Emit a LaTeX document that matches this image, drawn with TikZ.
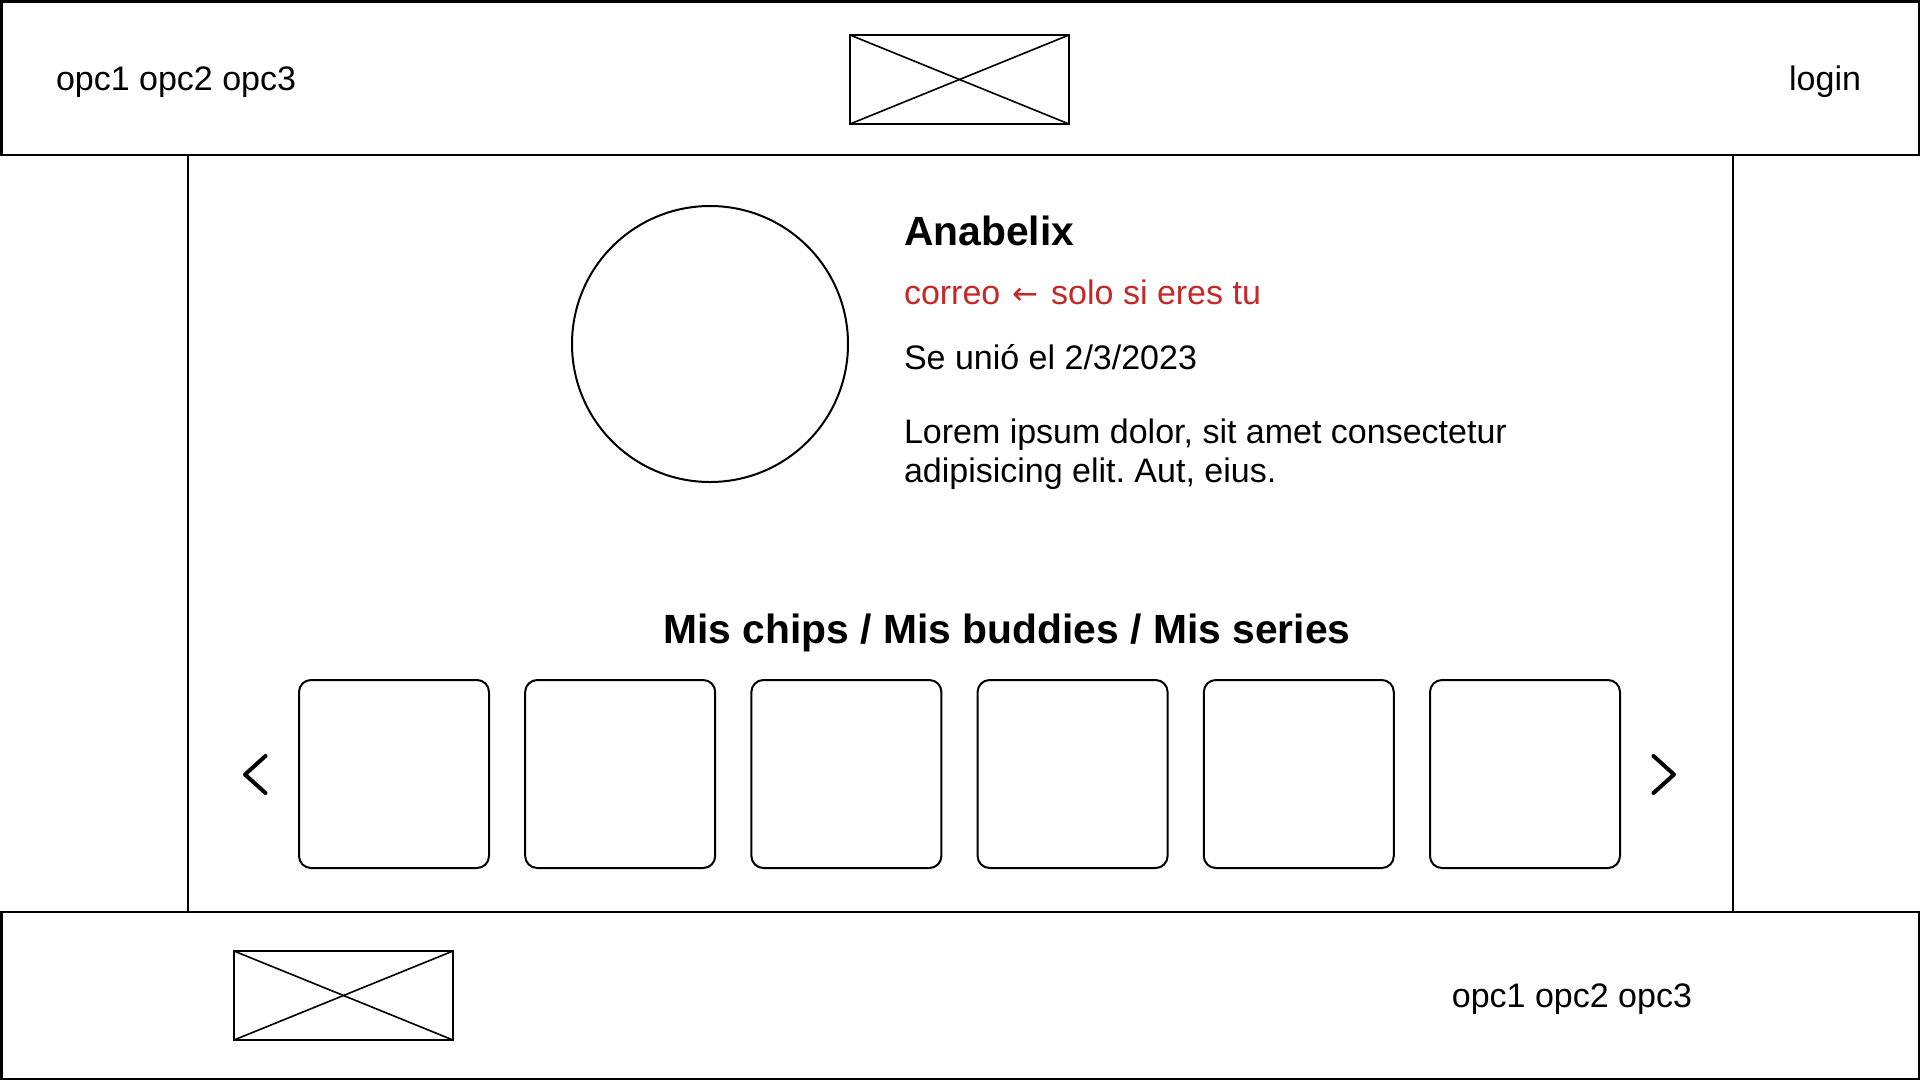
\documentclass[tikz,border=0pt]{standalone}
\usepackage{fontspec}
\setmainfont{Liberation Sans}
\newfontfamily\arrowfont{DejaVu Sans}
\definecolor{mailred}{RGB}{198,40,40}
\frenchspacing
\begin{document}
\begin{tikzpicture}[x=1pt,y=-1pt,
  framebox/.style={draw=black,line width=2.5pt,rectangle,inner sep=0pt,outer sep=0pt,anchor=north west},
  logobox/.style={draw=black,line width=2pt,rectangle,inner sep=0pt,outer sep=0pt,anchor=north west,minimum width=219pt,minimum height=89pt},
  cardbox/.style={draw=black,line width=2pt,rectangle,rounded corners=12pt,inner sep=0pt,outer sep=0pt,anchor=north west,minimum width=190pt,minimum height=188pt},
  colline/.style={draw=black,line width=2pt},
  chev/.style={draw=black,line width=4pt,line cap=round,line join=round},
  bodytxt/.style={inner sep=0pt,outer sep=0pt,font=\fontsize{34}{40}\selectfont},
  boldtxt/.style={inner sep=0pt,outer sep=0pt,font=\fontsize{40.8}{46}\selectfont\bfseries}]
\useasboundingbox (0,0) rectangle (1920,1080);
\fill[white] (0,0) rectangle (1920,1080);

% header and footer bars
\node[framebox,minimum width=1917.5pt,minimum height=153.75pt] (header) at (1.25,1.25) {};
\node[framebox,minimum width=1917.5pt,minimum height=166.75pt] (footer) at (1.25,912) {};

% content column
\draw[colline] (188,155) -- (188,912);
\draw[colline] (1733,155) -- (1733,912);

% header
\node[bodytxt,anchor=base west] (hmenu) at (56,90.5) {opc1 opc2 opc3};
\node[logobox] (hlogo) at (850,35) {};
\draw[line width=1.6pt] (hlogo.north west) -- (hlogo.south east);
\draw[line width=1.6pt] (hlogo.south west) -- (hlogo.north east);
\node[bodytxt,anchor=base east] (login) at (1861,90.5) {login};

% profile
\node[circle,draw=black,line width=2pt,inner sep=0pt,minimum size=276pt] (avatar) at (710,344) {};
\node[boldtxt,anchor=base west] (name) at (904,245) {Anabelix};
\node[bodytxt,anchor=base west,text=mailred] (mail) at (904,304) {correo\kern3pt\ {\arrowfont\fontsize{31}{34}\selectfont ←}\ \kern3pt solo si eres tu};
\node[bodytxt,anchor=base west] (joined) at (904,369) {Se unió el 2/3/2023};
\node[bodytxt,anchor=base west] (lorem1) at (904,443) {Lorem ipsum dolor, sit amet consectetur};
\node[bodytxt,anchor=base west] (lorem2) at (904,482) {adipisicing elit. Aut, eius.};

% carousel
\node[boldtxt,anchor=base] (tabs) at (1007,643) {Mis chips / Mis buddies / Mis series};
\foreach \i in {0,...,5}{
  \node[cardbox] (card\i) at ({299+226.2*\i},680) {};
}
\draw[chev] (265.5,756) -- (245,774.5) -- (265.5,793);
\draw[chev] (1653.5,756) -- (1674,774.5) -- (1653.5,793);

% footer
\node[logobox] (flogo) at (234,951) {};
\draw[line width=1.6pt] (flogo.north west) -- (flogo.south east);
\draw[line width=1.6pt] (flogo.south west) -- (flogo.north east);
\node[bodytxt,anchor=base east] (fmenu) at (1692,1007) {opc1 opc2 opc3};
\end{tikzpicture}
\end{document}
